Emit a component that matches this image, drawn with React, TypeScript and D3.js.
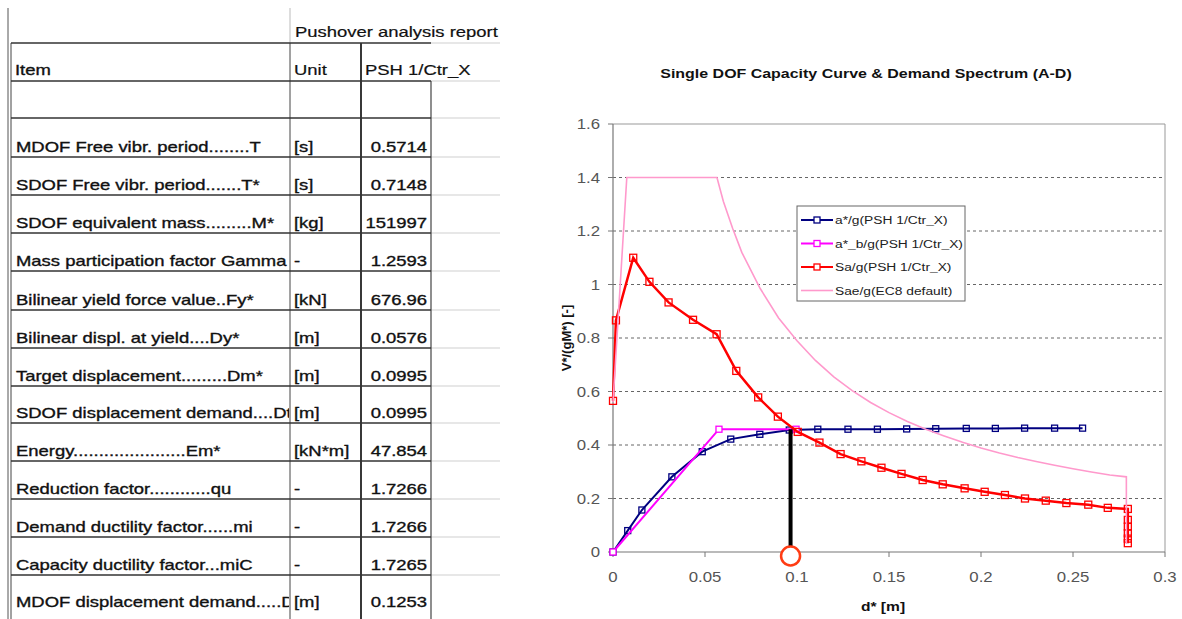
import React from "react";
import * as d3 from "d3";

// ---------- Table data ----------
const tableItems = [
  "MDOF Free vibr. period........T",
  "SDOF Free vibr. period.......T*",
  "SDOF equivalent mass.........M*",
  "Mass participation factor Gamma",
  "Bilinear yield force value..Fy*",
  "Bilinear displ. at yield....Dy*",
  "Target displacement.........Dm*",
  "SDOF displacement demand....Dt",
  "Energy......................Em*",
  "Reduction factor............qu",
  "Demand ductility factor......mi",
  "Capacity ductility factor...miC",
  "MDOF displacement demand.....D",
];
const tableUnits = ["[s]", "[s]", "[kg]", "-", "[kN]", "[m]", "[m]", "[m]", "[kN*m]", "-", "-", "-", "[m]"];
const tableValues = ["0.5714", "0.7148", "151997", "1.2593", "676.96", "0.0576", "0.0995", "0.0995", "47.854", "1.7266", "1.7266", "1.7265", "0.1253"];

// ---------- Chart data ----------
const chartTitle = "Single DOF Capacity Curve & Demand Spectrum (A-D)";
const xTicks = [0, 0.05, 0.1, 0.15, 0.2, 0.25, 0.3];
const yTicks = [0, 0.2, 0.4, 0.6, 0.8, 1, 1.2, 1.4, 1.6];
const seriesNames = ["a*/g(PSH 1/Ctr_X)", "a*_b/g(PSH 1/Ctr_X)", "Sa/g(PSH 1/Ctr_X)", "Sae/g(EC8 default)"];

const capX = [0, 0.008, 0.0157, 0.032, 0.0485, 0.064, 0.0798, 0.0958, 0.1113, 0.1277, 0.1437, 0.1596, 0.1754, 0.192, 0.2078, 0.2237, 0.24, 0.2552];
const capY = [0, 0.08, 0.157, 0.281, 0.375, 0.422, 0.44, 0.456, 0.459, 0.459, 0.459, 0.46, 0.461, 0.462, 0.462, 0.463, 0.463, 0.463];

const bilX = [0, 0.0576, 0.0995];
const bilY = [0, 0.459, 0.459];

const demX = [0, 0.0016, 0.011, 0.0198, 0.0302, 0.0435, 0.0563, 0.067, 0.0789, 0.0896, 0.1004, 0.1122, 0.1237, 0.135, 0.1459, 0.1568, 0.1683, 0.1792, 0.1911, 0.202, 0.213, 0.2239, 0.2352, 0.2464, 0.2583, 0.2689, 0.2798, 0.2798, 0.2798, 0.2798, 0.2798, 0.2798];
const demY = [0.565, 0.866, 1.1, 1.01, 0.933, 0.868, 0.814, 0.677, 0.578, 0.506, 0.449, 0.409, 0.366, 0.339, 0.315, 0.292, 0.269, 0.253, 0.238, 0.225, 0.213, 0.2, 0.192, 0.183, 0.177, 0.165, 0.161, 0.12, 0.095, 0.07, 0.05, 0.033];

const elaX = [0, 0.0075, 0.0565, 0.06, 0.065, 0.07, 0.08, 0.09, 0.1, 0.11, 0.12, 0.13, 0.14, 0.15, 0.16, 0.17, 0.18, 0.19, 0.2, 0.21, 0.22, 0.23, 0.24, 0.25, 0.26, 0.27, 0.279, 0.279];
const elaY = [0.56, 1.4, 1.4, 1.31, 1.21, 1.12, 0.985, 0.875, 0.79, 0.716, 0.655, 0.603, 0.559, 0.521, 0.488, 0.459, 0.434, 0.41, 0.389, 0.37, 0.353, 0.338, 0.324, 0.311, 0.299, 0.288, 0.281, 0.03];

const targetD = [0.0965];
const targetA = [0.459];

const FONT = "'Liberation Sans', Arial, sans-serif";
const SX = 1.2;

type TP = {
  x: number; y: number; children: React.ReactNode; anchor?: string; size?: number;
  weight?: string | number; fill?: string; sx?: number; rotate?: number; stroke?: number;
};
const T = ({ x, y, children, anchor = "start", size = 14, weight = "normal", fill = "#000", sx = SX, rotate = 0, stroke = 0 }: TP) => (
  <text
    transform={`translate(${x},${y}) scale(${sx},1)${rotate ? ` rotate(${rotate})` : ""}`}
    textAnchor={anchor as any}
    fontSize={size}
    fontWeight={weight as any}
    fill={fill}
    stroke={stroke ? fill : "none"}
    strokeWidth={stroke || undefined}
    fontFamily={FONT}
  >
    {children}
  </text>
);

const Square = ({ cx, cy, s, color, fill = "white" }: { cx: number; cy: number; s: number; color: string; fill?: string }) => (
  <rect x={cx - s / 2} y={cy - s / 2} width={s} height={s} fill={fill} stroke={color} strokeWidth={1.3} />
);

function Table() {
  const rowTops = [118, 157, 195, 233, 271, 310, 348, 386, 423, 461, 499, 537, 575];
  const hLines = [43, 81, ...rowTops];
  const ts = { size: 15, sx: 1.23, fill: "#111", stroke: 0.35 };
  return (
    <g>
      <defs>
        <clipPath id="itemClip">
          <rect x={11} y={0} width={278} height={619} />
        </clipPath>
      </defs>
      {hLines.slice(1).map((y, i) => (
        <line key={"e" + i} x1={431} x2={500} y1={y} y2={y} stroke="#cfcfcf" strokeWidth={1} />
      ))}
      <line x1={430} x2={500} y1={43} y2={43} stroke="#cfcfcf" strokeWidth={1} />
      <line x1={8} x2={8} y1={8} y2={619} stroke="#555" strokeWidth={1} />
      <line x1={11} x2={11} y1={43} y2={619} stroke="#444" strokeWidth={1} />
      <line x1={290} x2={290} y1={8} y2={43} stroke="#bbb" strokeWidth={1} />
      <line x1={290} x2={290} y1={43} y2={619} stroke="#444" strokeWidth={1} />
      <line x1={361} x2={361} y1={43} y2={619} stroke="#222" strokeWidth={1.8} />
      <line x1={431} x2={431} y1={81} y2={619} stroke="#444" strokeWidth={1.2} />
      {hLines.map((y, i) => (
        <line key={"h" + i} x1={11} x2={431} y1={y} y2={y} stroke="#333" strokeWidth={1.3} />
      ))}
      <T x={295} y={37} {...ts} stroke={0.2}>Pushover analysis report</T>
      <T x={15} y={75} {...ts}>Item</T>
      <T x={294} y={75} {...ts} stroke={0.2}>Unit</T>
      <T x={365} y={75} {...ts} stroke={0.2}>PSH 1/Ctr_X</T>
      {tableItems.map((t, i) => {
        const bottom = i + 1 < rowTops.length ? rowTops[i + 1] : 612;
        return (
          <g key={"r" + i}>
            <g clipPath="url(#itemClip)">
              <T x={16} y={bottom - 5} {...ts}>{t}</T>
            </g>
            <T x={294} y={bottom - 5} {...ts}>{tableUnits[i]}</T>
            <T x={427} y={bottom - 5} {...ts} anchor="end">{tableValues[i]}</T>
          </g>
        );
      })}
    </g>
  );
}

function Chart() {
  const x = d3.scaleLinear().domain([0, 0.3]).range([613, 1165]);
  const y = d3.scaleLinear().domain([0, 1.6]).range([552, 124]);
  const line = (xs: number[], ys: number[]) =>
    d3.line<number>().x((_, i) => x(xs[i])).y((_, i) => y(ys[i]))(xs) || "";

  const colors = ["#000080", "#ff00ff", "#ff0000", "#ff99cc"];
  const legendY = [220, 243.5, 267, 290.5];

  return (
    <g>
      <T x={866} y={78} size={13.3} weight="bold" anchor="middle" fill="#111">{chartTitle}</T>
      {yTicks.slice(1, -1).map((t) => (
        <line key={"g" + t} x1={x(0)} x2={x(0.3)} y1={y(t)} y2={y(t)} stroke="#666" strokeWidth={1} strokeDasharray="3,3" />
      ))}
      <line x1={x(0)} x2={x(0.3)} y1={y(1.6)} y2={y(1.6)} stroke="#999" strokeWidth={1} />
      <line x1={x(0.3)} x2={x(0.3)} y1={y(1.6)} y2={y(0)} stroke="#999" strokeWidth={1} />
      <line x1={x(0)} x2={x(0)} y1={y(1.6)} y2={y(0)} stroke="#777" strokeWidth={1.2} />
      <line x1={x(0)} x2={x(0.3)} y1={y(0)} y2={y(0)} stroke="#777" strokeWidth={1.2} />
      {yTicks.map((t) => (
        <g key={"yt" + t}>
          <line x1={x(0) - 5} x2={x(0)} y1={y(t)} y2={y(t)} stroke="#777" strokeWidth={1} />
          <T x={600} y={y(t) + 5} size={14} anchor="end" fill="#555">{d3.format("")(t)}</T>
        </g>
      ))}
      {xTicks.map((t) => (
        <g key={"xt" + t}>
          <line x1={x(t)} x2={x(t)} y1={y(0)} y2={y(0) + 5} stroke="#777" strokeWidth={1} />
          <T x={x(t)} y={582} size={14} anchor="middle" fill="#555">{d3.format("")(t)}</T>
        </g>
      ))}
      <T x={883} y={611} size={13} weight="bold" anchor="middle" fill="#111">d* [m]</T>
      <T x={571} y={338} size={13} weight="bold" anchor="middle" rotate={-90} sx={1} fill="#111">V*/(gM*) [-]</T>

      <path d={line(capX, capY)} fill="none" stroke={colors[0]} strokeWidth={2} />
      {capX.map((d, i) => <Square key={"c" + i} cx={x(d)} cy={y(capY[i])} s={6} color={colors[0]} fill="none" />)}
      <path d={line(bilX, bilY)} fill="none" stroke={colors[1]} strokeWidth={2} />
      {bilX.map((d, i) => <Square key={"b" + i} cx={x(d)} cy={y(bilY[i])} s={6} color={colors[1]} fill="white" />)}
      <path d={line(demX, demY)} fill="none" stroke={colors[2]} strokeWidth={2.5} />
      {demX.map((d, i) => <Square key={"d" + i} cx={x(d)} cy={y(demY[i])} s={7} color={colors[2]} fill="none" />)}
      <path d={line(elaX, elaY)} fill="none" stroke={colors[3]} strokeWidth={1.6} />

      <line x1={x(targetD[0])} x2={x(targetD[0])} y1={y(0)} y2={y(targetA[0])} stroke="#000" strokeWidth={4} />
      <circle cx={x(targetD[0])} cy={y(0) + 4} r={9.5} fill="white" stroke="#ff3c14" strokeWidth={2.5} />

      <rect x={797} y={206} width={168} height={95} fill="white" stroke="#666" strokeWidth={1} />
      {seriesNames.map((n, i) => (
        <g key={"l" + i}>
          <line x1={801} x2={833} y1={legendY[i]} y2={legendY[i]} stroke={colors[i]} strokeWidth={i === 3 ? 1.6 : 2} />
          {i < 3 && <Square cx={817} cy={legendY[i]} s={6} color={colors[i]} fill="white" />}
          <T x={835} y={legendY[i] + 4} size={11.5} fill="#222">{n}</T>
        </g>
      ))}
    </g>
  );
}

export default function App() {
  return (
    <svg width={1182} height={619} style={{ position: "absolute", left: 0, top: 0, background: "white" }}>
      <rect x={0} y={0} width={1182} height={619} fill="white" />
      <Table />
      <Chart />
    </svg>
  );
}
